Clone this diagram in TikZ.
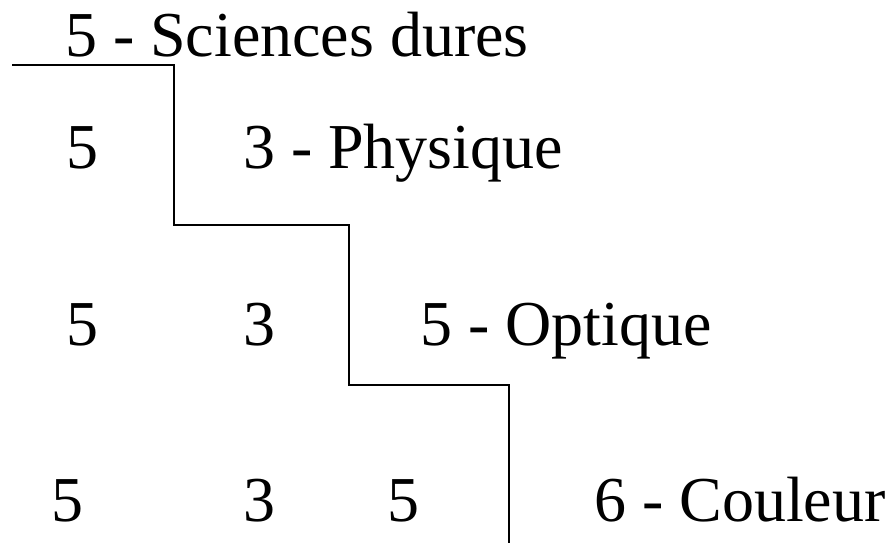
\documentclass[tikz,border=0pt]{standalone}
\usepackage{fontspec}
\setmainfont{Liberation Serif}
\usepackage{tikz}
\usetikzlibrary{positioning}
\tikzset{
  cell/.style  ={anchor=base west, inner sep=0pt, outer sep=0pt,
                 font=\fontsize{64}{70}\selectfont},
  stair/.style ={draw=black, line width=1.4pt},
}

\begin{document}
\begin{tikzpicture}[x=1pt,y=1pt]
        \useasboundingbox (0,0) rectangle (892,543);

        \node[cell] (sci)  at (65,486)  {5 - Sciences dures};

        \node[cell] (a5)   at (66,374)  {5};
        \node[cell] (phys) at (243,374) {3 - Physique};

        \node[cell] (b5)   at (66,197)  {5};
        \node[cell] (b3)   at (243,197) {3};
        \node[cell] (opt)  at (420,197) {5 - Optique};

        \node[cell] (c5)   at (51,21)   {5};
        \node[cell] (c3)   at (243,21)  {3};
        \node[cell] (c5b)  at (387,21)  {5};
        \node[cell] (coul) at (594,21)  {6 - Couleur};

        \coordinate (s0) at (12,478);
        \coordinate (s1) at (174,478);
        \coordinate (s2) at (174,318);
        \coordinate (s3) at (349,318);
        \coordinate (s4) at (349,158);
        \coordinate (s5) at (509,158);
        \coordinate (s6) at (509,0);

        \draw[stair] (s0) -- (s1) -- (s2) -- (s3) -- (s4) -- (s5) -- (s6);
      \end{tikzpicture}
\end{document}
